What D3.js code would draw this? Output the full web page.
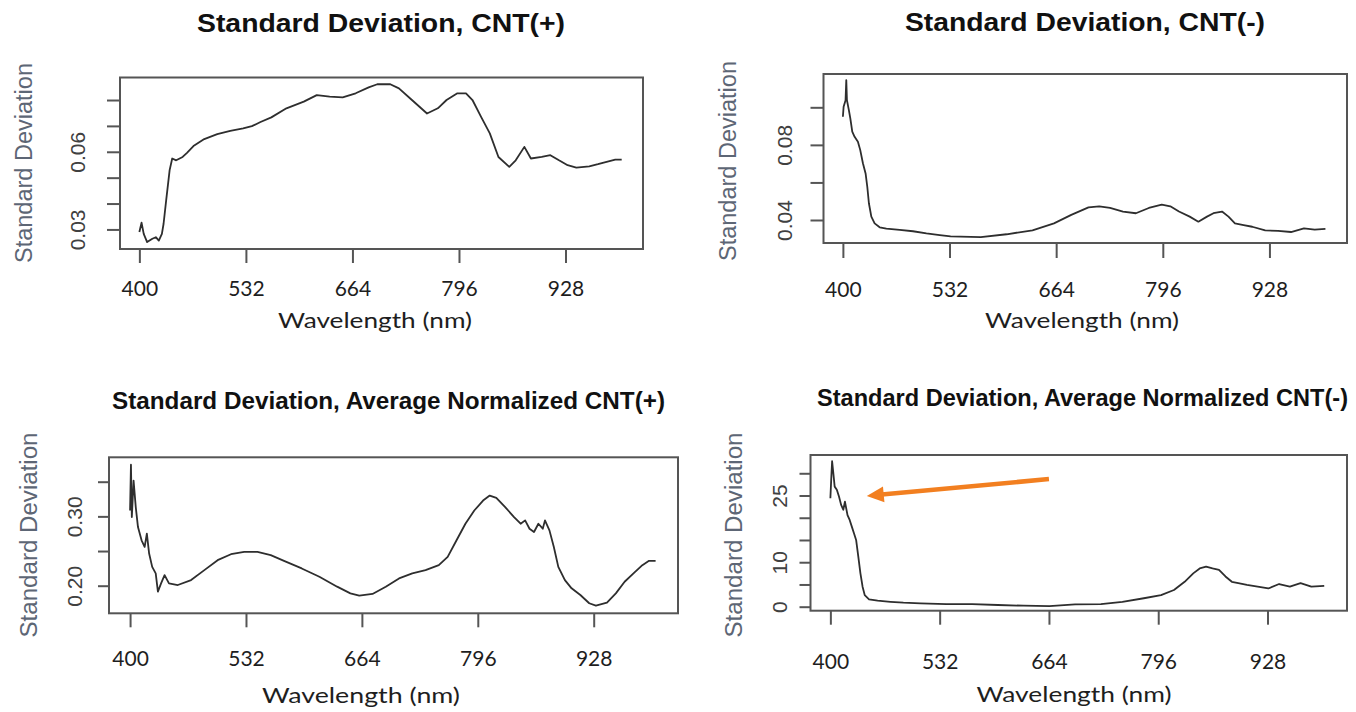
<!DOCTYPE html>
<html><head><meta charset="utf-8">
<script src="https://cdn.jsdelivr.net/npm/d3@7"></script>
<style>body{margin:0;background:#fff}</style>
</head><body><svg id="c" width="1356" height="712"></svg>
<script>
// ---------- data ----------
const xTicks = [400, 532, 664, 796, 928];

const titles = [
  "Standard Deviation, CNT(+)",
  "Standard Deviation, CNT(-)",
  "Standard Deviation, Average Normalized CNT(+)",
  "Standard Deviation, Average Normalized CNT(-)"
];
const xTitle = "Wavelength (nm)";
const yTitle = "Standard Deviation";

const wlP1 = [400,402.7,405.4,409.6,416.1,420.4,424.1,427.9,430,433.2,437.5,440.7,445.6,453.6,459,467,480.4,496.5,512.6,528.6,539.4,550.1,563.5,582.2,603.7,619.8,635.8,651.9,668,684.1,694.8,710.9,721.6,737.7,756.4,769.8,780.6,794,804.7,812.7,823.4,834.2,844.9,858.3,866.3,877,885.1,898.5,909.2,919.9,930.6,941.4,957.4,968.2,978.9,989.6,997.6];
const sdP1 = [0.0290,0.0326,0.0283,0.0251,0.0264,0.0270,0.0257,0.0283,0.0322,0.0412,0.0529,0.0574,0.0567,0.0580,0.0596,0.0622,0.0649,0.0668,0.0681,0.0690,0.0699,0.0715,0.0733,0.0768,0.0794,0.0819,0.0813,0.0810,0.0826,0.0849,0.0861,0.0861,0.0845,0.0800,0.0748,0.0768,0.0800,0.0826,0.0826,0.0800,0.0735,0.0671,0.0580,0.0542,0.0567,0.0619,0.0574,0.0580,0.0587,0.0567,0.0548,0.0539,0.0544,0.0552,0.0561,0.0570,0.0570];

const wlP2 = [400,400.9,403.3,404.2,405,407.4,409.2,411.6,414.5,418.6,421.5,424.8,428.1,430.2,432.2,435.2,439.3,445.5,453.8,470.3,486.8,503.4,519.9,533.3,570.7,602.7,634.7,661.3,682.7,704,717.3,730.7,746.7,762.7,778.7,794.7,805.3,816,829.3,840,850.7,858.7,869.3,877.3,885.3,896,906.7,922.7,938.7,954.7,970.7,984,997.3];
const sdP2 = [0.0950,0.1003,0.1038,0.1145,0.1038,0.0985,0.0941,0.0870,0.0843,0.0817,0.0772,0.0702,0.0648,0.0577,0.0489,0.0418,0.0382,0.0361,0.0354,0.0347,0.0340,0.0329,0.0320,0.0313,0.0309,0.0324,0.0345,0.0382,0.0427,0.0467,0.0473,0.0464,0.0445,0.0436,0.0464,0.0482,0.0473,0.0445,0.0418,0.0391,0.0418,0.0436,0.0445,0.0418,0.0382,0.0373,0.0364,0.0345,0.0342,0.0336,0.0355,0.0349,0.0353];

const wlP3 = [400,401,402,404,406.5,409,413.1,416.6,419.1,421.7,425.2,429.2,431.7,435.3,439.3,444.3,454.4,469.5,484.6,499.7,514.9,530,545.1,560.2,575.3,595.5,615.6,635.8,650.9,661,676.1,691.2,706.3,721.4,736.5,751.6,761.7,771.8,781.9,792,802,809.6,817.1,827.2,837.3,844.8,849.9,854.9,860,865,870,872.5,877.6,882.6,887.7,895.2,902.8,912.8,922.9,930.5,943.1,953.2,963.2,973.3,983.4,991,998.5];
const sdP3 = [0.3085,0.3745,0.299,0.3515,0.313,0.2846,0.2655,0.256,0.275,0.2464,0.2272,0.2177,0.1914,0.2033,0.2153,0.2033,0.201,0.2081,0.2225,0.2368,0.2454,0.2488,0.2488,0.244,0.2359,0.2249,0.2129,0.1986,0.189,0.1857,0.1881,0.1986,0.2105,0.2177,0.2225,0.2296,0.2416,0.2655,0.2894,0.3085,0.3228,0.33,0.3267,0.3133,0.299,0.2894,0.2942,0.2822,0.2774,0.2894,0.2822,0.2942,0.2798,0.2559,0.2272,0.2081,0.1962,0.1866,0.1747,0.1713,0.1756,0.189,0.2057,0.2177,0.2296,0.2359,0.2359];

const wlP4 = [400,401,402.1,403.6,405.2,407.8,410.4,413,415.6,417.6,420.7,423.3,425.9,428.5,431.1,433.7,436.3,438.9,441.5,446.7,457.1,472.6,488.2,508.9,540,571.2,602.3,633.4,664.5,695.6,726.8,752.7,778.6,799.4,815,827.9,838.3,846.1,853.8,861.6,869.4,877.2,884.9,892.7,903.1,916.1,929,942,955,967.9,980.9,996.5];
const sdP4 = [24.4,28.5,32.7,30,27,26.3,24.8,22.9,21.8,23.6,20.6,19.5,18,16.5,15,11.3,7.5,4.5,2.6,1.65,1.35,1.1,0.9,0.75,0.6,0.6,0.38,0.22,0.15,0.53,0.6,1.1,1.9,2.6,3.75,5.6,7.5,8.6,9,8.6,8.3,6.8,5.6,5.3,4.9,4.5,4.1,5.1,4.5,5.3,4.5,4.7];

const yTicksP1 = [0.03,0.04,0.05,0.06,0.07,0.08];  const yLabelsP1 = [0.03,0.06];
const yTicksP2 = [0.04,0.06,0.08,0.10];           const yLabelsP2 = [0.04,0.08];
const yTicksP3 = [0.20,0.25,0.30,0.35];           const yLabelsP3 = [0.20,0.30];
const yTicksP4 = [0,5,10,15,20,25,30];            const yLabelsP4 = [0,10,25];

// annotation arrow (panel 4), in data units: tail then head
const arrowWl = [664, 444];
const arrowSd = [28.7, 24.9];

// ---------- layout ----------
const panels = [
  {wl: wlP1, sd: sdP1, yTicks: yTicksP1, yLabels: yLabelsP1, fmt: d3.format(".2f"),
   box: {l:120, r:643, t:77.5, b:249}, yDom: [0.02244, 0.0887],
   xTick: 14, yTick: 13, xLabBase: 296, yLabBase: 85,
   title: {x:381, y:32, w:368, fs:25}, xt: {x:375, y:328, w:194}, yt: {x:32, y:163, w:200}},
  {wl: wlP2, sd: sdP2, yTicks: yTicksP2, yLabels: yLabelsP2, fmt: d3.format(".2f"),
   box: {l:823.5, r:1347, t:74, b:243}, yDom: [0.02775, 0.11774],
   xTick: 15, yTick: 13, xLabBase: 297, yLabBase: 791.5,
   title: {x:1085, y:31, w:360, fs:25}, xt: {x:1082, y:328, w:194}, yt: {x:736, y:161, w:200}},
  {wl: wlP3, sd: sdP3, yTicks: yTicksP3, yLabels: yLabelsP3, fmt: d3.format(".2f"),
   box: {l:109, r:678, t:457.3, b:613.3}, yDom: [0.1602, 0.3852],
   xTick: 14, yTick: 11, xLabBase: 666, yLabBase: 82,
   title: {x:388.5, y:409, w:553, fs:23}, xt: {x:361, y:703, w:198}, yt: {x:36.5, y:535, w:205}},
  {wl: wlP4, sd: sdP4, yTicks: yTicksP4, yLabels: yLabelsP4, fmt: d3.format("d"),
   box: {l:810.5, r:1347, t:455, b:610.7}, yDom: [-0.9, 34.11],
   xTick: 14, yTick: 11, xLabBase: 669, yLabBase: 787,
   title: {x:1082.5, y:406, w:531, fs:23}, xt: {x:1074, y:702, w:195}, yt: {x:741.5, y:535, w:205}}
];

const svg = d3.select("#c");
svg.append("rect").attr("width",1356).attr("height",712).attr("fill","#fff");

panels.forEach((p, i) => {
  const g = svg.append("g");
  const x = d3.scaleLinear().domain([376, 1024]).range([p.box.l, p.box.r]);
  const y = d3.scaleLinear().domain(p.yDom).range([p.box.b, p.box.t]);

  // curve
  const pts = p.wl.map((w, k) => [w, p.sd[k]]);
  g.append("path").datum(pts)
    .attr("d", d3.line().x(d => x(d[0])).y(d => y(d[1])))
    .attr("fill", "none").attr("stroke", "#2e2e2e")
    .attr("stroke-width", 1.8).attr("stroke-linejoin", "round");

  // box
  g.append("rect").attr("x", p.box.l).attr("y", p.box.t)
    .attr("width", p.box.r - p.box.l).attr("height", p.box.b - p.box.t)
    .attr("fill", "none").attr("stroke", "#555").attr("stroke-width", 2);

  // x axis
  const xa = g.append("g").attr("transform", `translate(0,${p.box.b})`)
    .call(d3.axisBottom(x).tickValues(xTicks).tickSize(p.xTick).tickFormat(d3.format("d")));
  xa.select(".domain").remove();
  xa.selectAll(".tick line").attr("stroke", "#555").attr("stroke-width", 2);
  xa.selectAll(".tick text").attr("y", p.xLabBase - p.box.b).attr("dy", null)
    .attr("font-family", "Lato, 'Open Sans', sans-serif").attr("font-size", 21)
    .attr("fill", "#1e1e1e");

  // y axis
  const ya = g.append("g").attr("transform", `translate(${p.box.l},0)`)
    .call(d3.axisLeft(y).tickValues(p.yTicks).tickSize(p.yTick)
      .tickFormat(d => p.yLabels.some(v => Math.abs(v - d) < 1e-9) ? p.fmt(d) : ""));
  ya.select(".domain").remove();
  ya.selectAll(".tick line").attr("stroke", "#555").attr("stroke-width", 2);
  ya.selectAll(".tick text").attr("x", 0).attr("dy", null)
    .attr("transform", `translate(${p.yLabBase - p.box.l},0) rotate(-90)`)
    .attr("text-anchor", "middle")
    .attr("font-family", "'Liberation Sans', Arial, sans-serif").attr("font-size", 21)
    .attr("fill", "#404040");

  // title
  svg.append("text").attr("x", p.title.x).attr("y", p.title.y)
    .attr("text-anchor", "middle")
    .attr("font-family", "'Liberation Sans', Arial, sans-serif")
    .attr("font-weight", "bold").attr("font-size", p.title.fs).attr("fill", "#111")
    .attr("textLength", p.title.w).attr("lengthAdjust", "spacingAndGlyphs")
    .text(titles[i]);

  // x title
  svg.append("text").attr("x", p.xt.x).attr("y", p.xt.y)
    .attr("text-anchor", "middle")
    .attr("font-family", "Lato, 'Open Sans', sans-serif").attr("font-size", 22)
    .attr("fill", "#1e1e1e")
    .attr("textLength", p.xt.w).attr("lengthAdjust", "spacingAndGlyphs")
    .text(xTitle);

  // y title
  svg.append("text")
    .attr("transform", `translate(${p.yt.x},${p.yt.y}) rotate(-90)`)
    .attr("text-anchor", "middle")
    .attr("font-family", "'Liberation Sans', Arial, sans-serif").attr("font-size", 23)
    .attr("fill", "#5d6675")
    .attr("textLength", p.yt.w).attr("lengthAdjust", "spacingAndGlyphs")
    .text(yTitle);

  // arrow annotation on panel 4
  if (i === 3) {
    const sx = x(arrowWl[0]), sy = y(arrowSd[0]);
    const tx = x(arrowWl[1]), ty = y(arrowSd[1]);
    const len = Math.hypot(tx - sx, ty - sy);
    const ux = (tx - sx) / len, uy = (ty - sy) / len;
    const nx = -uy, ny = ux;
    const hl = 17, hw = 8;
    const bx = tx - ux * hl, by = ty - uy * hl;
    svg.append("line").attr("x1", sx).attr("y1", sy).attr("x2", bx + ux * 2).attr("y2", by + uy * 2)
      .attr("stroke", "#f27f20").attr("stroke-width", 4.5).attr("stroke-linecap", "butt");
    svg.append("path")
      .attr("d", `M${tx},${ty}L${bx + nx * hw},${by + ny * hw}L${bx - nx * hw},${by - ny * hw}Z`)
      .attr("fill", "#f27f20");
  }
});
</script>
</body></html>
